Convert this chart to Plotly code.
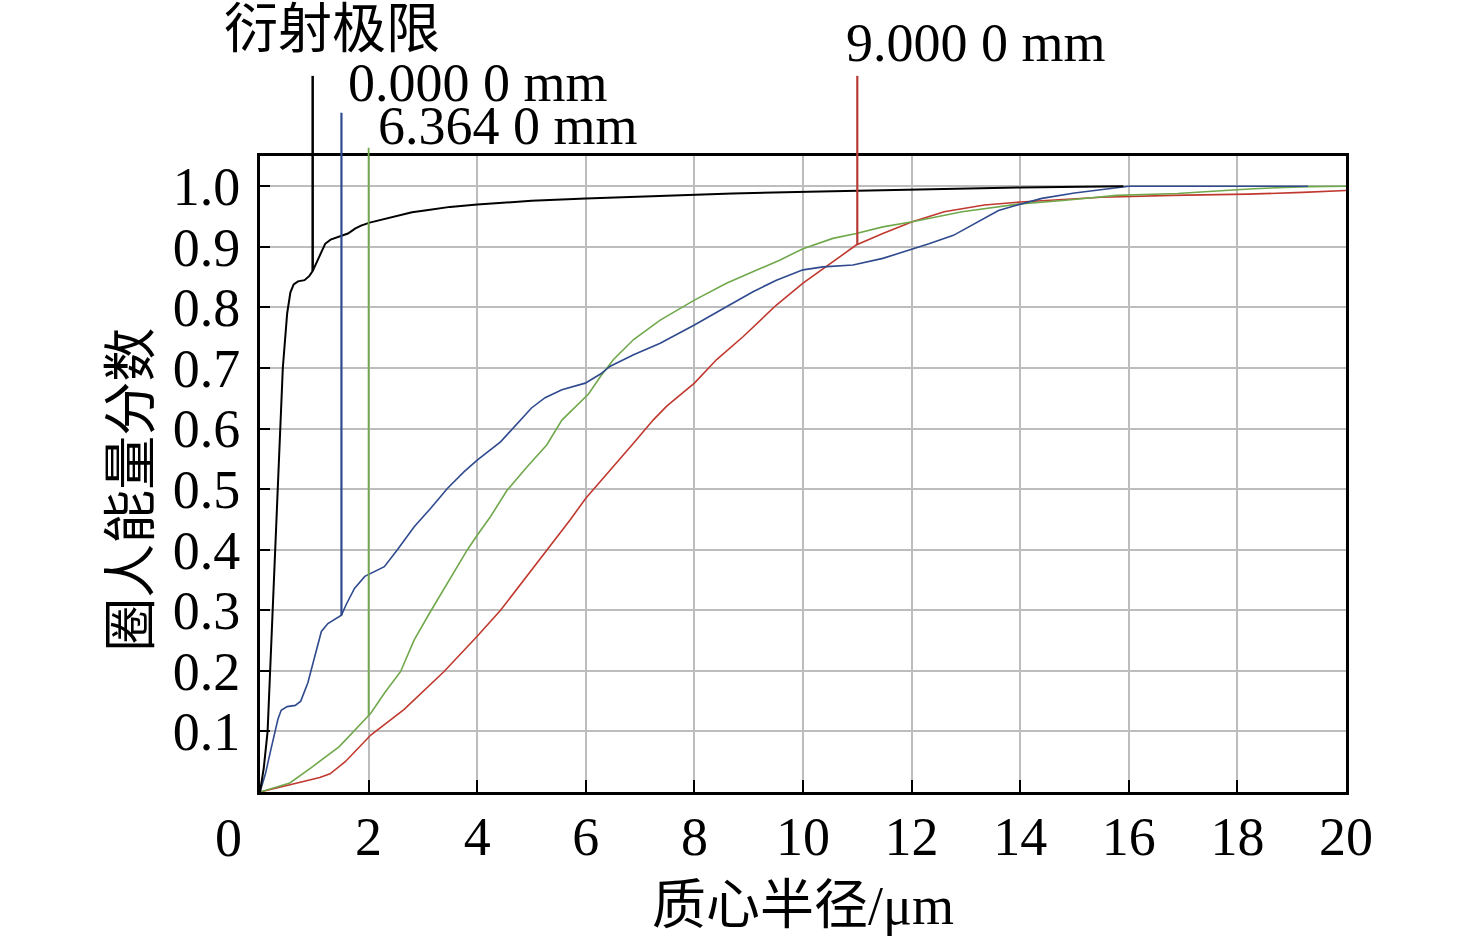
import numpy as np
import plotly.graph_objects as go

# ========== 数据 ==========
BLACK_X = [0, 0.07, 0.14, 0.23, 0.33, 0.42, 0.5, 0.56, 0.62, 0.7, 0.82, 0.91, 0.97, 1.05, 1.12, 1.2, 1.3,
           1.46, 1.62, 1.75, 1.86, 2.02, 2.3, 2.54, 2.8, 3.1, 3.5, 4.0, 5.0, 6.0, 7.3, 8.0, 8.7, 10.1,
           12.0, 14.0, 15.9]
BLACK_Y = [0, 0.04, 0.10, 0.30, 0.50, 0.70, 0.79, 0.825, 0.838, 0.843, 0.845, 0.852, 0.86, 0.875, 0.89,
           0.905, 0.912, 0.917, 0.922, 0.93, 0.935, 0.94, 0.946, 0.952, 0.957, 0.961, 0.966, 0.97, 0.976,
           0.98, 0.984, 0.985, 0.988, 0.991, 0.995, 0.998, 1.0]

BLUE_X = [0, 0.1, 0.2, 0.27, 0.33, 0.39, 0.5, 0.65, 0.75, 0.88, 1.01, 1.13, 1.25, 1.38, 1.5, 1.59, 1.74,
          1.93, 2.04, 2.29, 2.53, 2.84, 3.14, 3.45, 3.76, 4.0, 4.43, 4.8, 5.0, 5.25, 5.56, 5.99, 6.27,
          6.45, 6.88, 7.37, 8.0, 8.59, 9.08, 9.51, 10.0, 10.37, 10.92, 11.47, 11.99, 12.32, 12.77,
          13.26, 13.6, 13.9, 14.4, 15.0, 15.3, 15.7, 16.0, 19.3]
BLUE_Y = [0, 0.03, 0.07, 0.10, 0.12, 0.135, 0.141, 0.143, 0.15, 0.18, 0.225, 0.265, 0.278, 0.285, 0.292,
          0.31, 0.336, 0.356, 0.361, 0.372, 0.40, 0.438, 0.468, 0.501, 0.529, 0.548, 0.578, 0.614, 0.634,
          0.651, 0.664, 0.675, 0.690, 0.703, 0.722, 0.741, 0.771, 0.801, 0.826, 0.845, 0.862, 0.867,
          0.870, 0.881, 0.895, 0.905, 0.919, 0.944, 0.96, 0.968, 0.98, 0.989, 0.992, 0.996, 1.0, 1.0]

GREEN_X = [0, 0.55, 0.97, 1.46, 2.04, 2.29, 2.59, 2.84, 3.14, 3.45, 3.82, 4.0, 4.24, 4.55, 4.92, 5.28,
           5.56, 6.05, 6.27, 6.51, 6.88, 7.37, 8.0, 8.59, 9.08, 9.57, 10.0, 10.55, 10.98, 11.47, 11.99,
           12.93, 14.0, 14.73, 15.78, 16.9, 17.4, 18.3, 19.3, 20.0]
GREEN_Y = [0, 0.015, 0.042, 0.075, 0.130, 0.163, 0.199, 0.251, 0.298, 0.345, 0.40, 0.424, 0.454, 0.498,
           0.537, 0.573, 0.614, 0.657, 0.686, 0.714, 0.747, 0.779, 0.812, 0.840, 0.859, 0.878, 0.897,
           0.914, 0.922, 0.933, 0.941, 0.958, 0.971, 0.976, 0.985, 0.988, 0.991, 0.996, 0.9995, 1.0]

RED_X = [0, 0.55, 1.1, 1.29, 1.57, 2.04, 2.65, 3.39, 4.0, 4.43, 4.86, 5.28, 5.71, 6.0, 6.45, 6.87, 7.24,
         7.49, 8.0, 8.41, 8.9, 9.51, 10.0, 10.43, 10.98, 11.47, 12.0, 12.6, 13.34, 14.0, 14.82, 15.5,
         16.8, 18.2, 19.2, 20.0]
RED_Y = [0, 0.012, 0.024, 0.03, 0.05, 0.094, 0.136, 0.199, 0.257, 0.30, 0.35, 0.40, 0.449, 0.485, 0.531,
         0.575, 0.614, 0.637, 0.675, 0.714, 0.752, 0.804, 0.840, 0.867, 0.903, 0.922, 0.941, 0.958,
         0.969, 0.974, 0.978, 0.982, 0.985, 0.987, 0.990, 0.993]

# 标注：名称、标记位置 x、引线顶端 (paper)、文字位置 (paper)
LABELS = ["衍射极限", "0.000 0 mm", "6.364 0 mm", "9.000 0 mm"]
MARK_X = [0.97, 1.5, 2.0, 11.0]
LINE_TOP = [1.126, 1.068, 1.013, 1.126]
TEXT_POS = [(-0.035, 1.198), (0.079, 1.114), (0.107, 1.047), (0.538, 1.178)]

X_TICKS = [2, 4, 6, 8, 10, 12, 14, 16, 18, 20]
Y_TICKS = [0.1, 0.2, 0.3, 0.4, 0.5, 0.6, 0.7, 0.8, 0.9, 1.0]
Y_TOP = 1.05

FONT = "Liberation Serif, Noto Sans CJK SC"
FS = 54

curves = [
    (RED_X, RED_Y, "#c0392f", 1.6),
    (GREEN_X, GREEN_Y, "#70a84c", 1.6),
    (BLUE_X, BLUE_Y, "#2f4a8e", 1.6),
    (BLACK_X, BLACK_Y, "#000000", 2.0),
]
# 标记顺序对应 LABELS
mark_src = [(BLACK_X, BLACK_Y, "#000000", 2.5), (BLUE_X, BLUE_Y, "#2f4a8e", 2.2),
            (GREEN_X, GREEN_Y, "#70a84c", 1.8), (RED_X, RED_Y, "#b83a34", 2.2)]

fig = go.Figure()
for xs, ys, c, w in curves:
    fig.add_trace(go.Scatter(x=xs, y=ys, mode="lines", line=dict(color=c, width=w),
                             showlegend=False, hoverinfo="skip"))

# 引线 + 标签
for (xs, ys, c, w), mx, top, lab, (tx, ty) in zip(mark_src, MARK_X, LINE_TOP, LABELS, TEXT_POS):
    y_on_curve = float(np.interp(mx, xs, ys))
    fig.add_shape(type="line", xref="x", yref="paper", x0=mx, x1=mx,
                  y0=y_on_curve / Y_TOP, y1=top, line=dict(color=c, width=w))
    fig.add_annotation(text=lab, xref="paper", yref="paper", x=tx, y=ty,
                       xanchor="left", yanchor="middle", showarrow=False,
                       font=dict(family=FONT, size=FS, color="black"))

# x 轴 "0" 标签（原图偏左）
fig.add_annotation(text="0", xref="x", yref="y", x=0, y=0, xanchor="center", yanchor="top",
                   xshift=-32, yshift=-14, showarrow=False,
                   font=dict(family=FONT, size=FS, color="black"))
# y 轴标题
fig.add_annotation(text="圈人能量分数", xref="paper", yref="paper", x=-0.118, y=0.475,
                   textangle=-90, showarrow=False, xanchor="center", yanchor="middle",
                   font=dict(family=FONT, size=FS, color="black"))

fig.update_layout(
    width=1476, height=941,
    margin=dict(l=260, r=130, t=156, b=149),
    paper_bgcolor="white", plot_bgcolor="white",
    font=dict(family=FONT, size=FS, color="black"),
    showlegend=False,
)
fig.update_xaxes(
    range=[0, 20], tickvals=X_TICKS, ticktext=[str(v) for v in X_TICKS],
    ticks="inside", ticklen=12, tickwidth=2, tickcolor="black",
    showgrid=True, gridcolor="#bdbdbd", gridwidth=2,
    showline=True, linewidth=3, linecolor="black", mirror=True,
    zeroline=False, ticklabelstandoff=-5, automargin=False,
    title=dict(text="质心半径/μm", standoff=21, font=dict(family=FONT, size=FS)),
)
fig.update_yaxes(
    range=[0, Y_TOP], tickvals=Y_TICKS, ticktext=[f"{v:.1f}" for v in Y_TICKS],
    ticks="inside", ticklen=10, tickwidth=2, tickcolor="black",
    showgrid=True, gridcolor="#bdbdbd", gridwidth=2,
    showline=True, linewidth=3, linecolor="black", mirror=True,
    zeroline=False, ticklabelstandoff=6, automargin=False,
)

# 去掉页面 body 默认的 8px 边距，让图贴满窗口；隐藏工具栏
fig.write_html("out.html", config={"displayModeBar": False},
               post_script="document.body.style.margin='0';")
